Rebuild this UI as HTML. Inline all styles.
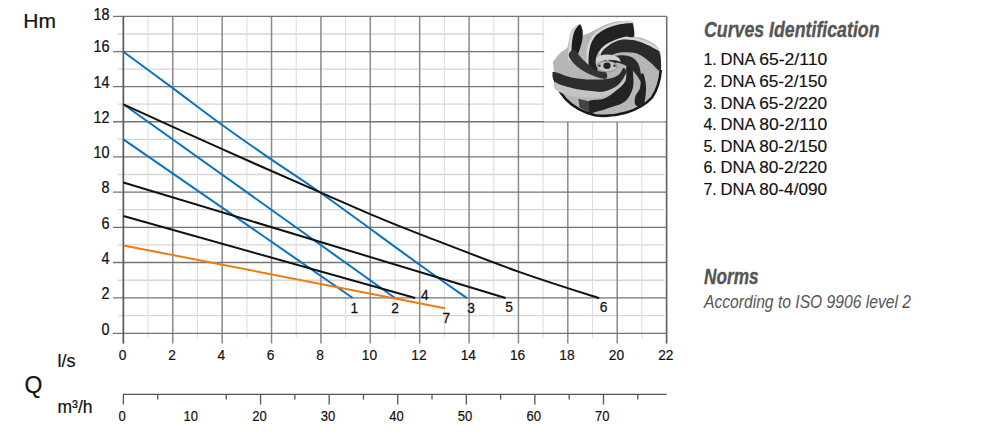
<!DOCTYPE html><html><head><meta charset="utf-8"><style>html,body{margin:0;padding:0;background:#fff;width:1000px;height:436px;overflow:hidden}svg{display:block}text{font-family:"Liberation Sans",sans-serif}</style></head><body>
<svg width="1000" height="436" viewBox="0 0 1000 436">
<line x1="118" y1="315.67" x2="664.6" y2="315.67" stroke="#d6d6d6" stroke-width="1.3"/>
<line x1="118" y1="280.23" x2="664.6" y2="280.23" stroke="#d6d6d6" stroke-width="1.3"/>
<line x1="118" y1="244.90" x2="664.6" y2="244.90" stroke="#d6d6d6" stroke-width="1.3"/>
<line x1="118" y1="209.70" x2="664.6" y2="209.70" stroke="#d6d6d6" stroke-width="1.3"/>
<line x1="118" y1="174.50" x2="664.6" y2="174.50" stroke="#d6d6d6" stroke-width="1.3"/>
<line x1="118" y1="139.34" x2="664.6" y2="139.34" stroke="#d6d6d6" stroke-width="1.3"/>
<line x1="118" y1="104.20" x2="664.6" y2="104.20" stroke="#d6d6d6" stroke-width="1.3"/>
<line x1="118" y1="69.10" x2="664.6" y2="69.10" stroke="#d6d6d6" stroke-width="1.3"/>
<line x1="118" y1="34.01" x2="664.6" y2="34.01" stroke="#d6d6d6" stroke-width="1.3"/>
<line x1="148.09" y1="16.47" x2="148.09" y2="338.40" stroke="#dedede" stroke-width="1.1"/>
<line x1="197.47" y1="16.47" x2="197.47" y2="338.40" stroke="#dedede" stroke-width="1.1"/>
<line x1="246.85" y1="16.47" x2="246.85" y2="338.40" stroke="#dedede" stroke-width="1.1"/>
<line x1="296.23" y1="16.47" x2="296.23" y2="338.40" stroke="#dedede" stroke-width="1.1"/>
<line x1="345.61" y1="16.47" x2="345.61" y2="338.40" stroke="#dedede" stroke-width="1.1"/>
<line x1="394.99" y1="16.47" x2="394.99" y2="338.40" stroke="#dedede" stroke-width="1.1"/>
<line x1="444.37" y1="16.47" x2="444.37" y2="338.40" stroke="#dedede" stroke-width="1.1"/>
<line x1="493.75" y1="16.47" x2="493.75" y2="338.40" stroke="#dedede" stroke-width="1.1"/>
<line x1="543.13" y1="16.47" x2="543.13" y2="338.40" stroke="#dedede" stroke-width="1.1"/>
<line x1="592.51" y1="16.47" x2="592.51" y2="338.40" stroke="#dedede" stroke-width="1.1"/>
<line x1="641.89" y1="16.47" x2="641.89" y2="338.40" stroke="#dedede" stroke-width="1.1"/>
<line x1="123.40" y1="16.47" x2="123.40" y2="343.40" stroke="#8a8a8a" stroke-width="1.5"/>
<line x1="172.78" y1="16.47" x2="172.78" y2="343.40" stroke="#8a8a8a" stroke-width="1.5"/>
<line x1="222.16" y1="16.47" x2="222.16" y2="343.40" stroke="#8a8a8a" stroke-width="1.5"/>
<line x1="271.54" y1="16.47" x2="271.54" y2="343.40" stroke="#8a8a8a" stroke-width="1.5"/>
<line x1="320.92" y1="16.47" x2="320.92" y2="343.40" stroke="#8a8a8a" stroke-width="1.5"/>
<line x1="370.30" y1="16.47" x2="370.30" y2="343.40" stroke="#8a8a8a" stroke-width="1.5"/>
<line x1="419.68" y1="16.47" x2="419.68" y2="343.40" stroke="#8a8a8a" stroke-width="1.5"/>
<line x1="469.06" y1="16.47" x2="469.06" y2="343.40" stroke="#8a8a8a" stroke-width="1.5"/>
<line x1="518.44" y1="16.47" x2="518.44" y2="343.40" stroke="#8a8a8a" stroke-width="1.5"/>
<line x1="567.82" y1="16.47" x2="567.82" y2="343.40" stroke="#8a8a8a" stroke-width="1.5"/>
<line x1="617.20" y1="16.47" x2="617.20" y2="343.40" stroke="#8a8a8a" stroke-width="1.5"/>
<line x1="666.58" y1="16.47" x2="666.58" y2="343.40" stroke="#8a8a8a" stroke-width="1.5"/>
<line x1="113" y1="333.40" x2="666.58" y2="333.40" stroke="#747474" stroke-width="1.3"/>
<line x1="113" y1="297.95" x2="666.58" y2="297.95" stroke="#747474" stroke-width="1.3"/>
<line x1="113" y1="262.50" x2="666.58" y2="262.50" stroke="#747474" stroke-width="1.3"/>
<line x1="113" y1="227.30" x2="666.58" y2="227.30" stroke="#747474" stroke-width="1.3"/>
<line x1="113" y1="192.10" x2="666.58" y2="192.10" stroke="#747474" stroke-width="1.3"/>
<line x1="113" y1="156.90" x2="666.58" y2="156.90" stroke="#747474" stroke-width="1.3"/>
<line x1="113" y1="121.77" x2="666.58" y2="121.77" stroke="#747474" stroke-width="1.3"/>
<line x1="113" y1="86.64" x2="666.58" y2="86.64" stroke="#747474" stroke-width="1.3"/>
<line x1="113" y1="51.55" x2="666.58" y2="51.55" stroke="#747474" stroke-width="1.3"/>
<line x1="113" y1="16.47" x2="666.58" y2="16.47" stroke="#747474" stroke-width="1.3"/>
<line x1="123.40" y1="16.47" x2="123.40" y2="343.40" stroke="#555" stroke-width="1.4"/>
<line x1="666.58" y1="16.47" x2="666.58" y2="343.40" stroke="#666" stroke-width="1.4"/>
<rect x="544.2" y="17.3" width="121.6" height="104.2" fill="#fff"/>

<g>
<path d="M552.9,62.0 C554.0,60.6 557.3,55.7 559.6,53.4 C561.9,51.1 565.4,50.0 566.9,48.0 C568.4,46.0 568.0,44.0 568.7,41.3 C569.4,38.5 570.0,34.0 571.1,31.5 C572.2,29.0 574.0,27.7 575.5,26.5 C577.0,25.3 579.1,23.6 580.3,24.4 C581.5,25.1 582.3,29.2 582.8,31.0 C583.2,32.8 582.5,34.5 583.0,35.0 C583.5,35.5 584.8,34.4 586.0,34.0 C587.2,33.6 588.8,33.0 590.0,32.5 C591.2,32.0 591.7,31.7 593.0,31.0 C594.3,30.3 595.8,29.6 598.0,28.5 C600.2,27.4 602.7,25.7 606.0,24.5 C609.3,23.3 614.0,21.9 618.0,21.3 C622.0,20.7 627.4,20.6 630.0,21.0 C632.6,21.4 632.8,21.0 633.5,23.5 C634.2,26.0 633.4,33.7 634.5,36.0 C635.6,38.3 637.8,36.8 640.0,37.5 C642.2,38.2 645.3,39.2 648.0,40.5 C650.7,41.8 653.9,43.5 656.0,45.5 C658.1,47.5 659.7,48.8 660.5,52.5 C661.3,56.2 660.9,65.4 661.0,68.0  L660.8,70 C660,80 657,90 652,97.5 C640,111 615,118 595,115.2 C570,109 555,92 553.8,72 Z" fill="#b6b6b6"/>
<path d="M553.8,72 C555,92 570,109 595,115.2 C615,118 640,111 652,97.5 C657,90 660,80 660.8,70" fill="none" stroke="#161616" stroke-width="2.6"/>
<path d="M568.5,60.0 C567.9,58.2 568.5,49.5 569.0,45.0 C569.5,40.5 570.2,36.2 571.5,33.0 C572.8,29.8 575.0,27.5 576.5,26.0 C578.0,24.5 580.5,23.4 580.3,24.2 C580.0,25.0 576.3,28.0 575.0,31.0 C573.7,34.0 572.9,37.8 572.5,42.0 C572.1,46.2 573.2,53.0 572.5,56.0 C571.8,59.0 569.1,61.8 568.5,60.0 Z" fill="#dadada"/>
<path d="M586.5,62.0 C586.3,59.5 586.4,51.5 587.5,47.0 C588.6,42.5 590.8,38.0 593.0,35.0 C595.2,32.0 598.2,30.8 601.0,29.0 C603.8,27.2 606.5,25.8 610.0,24.5 C613.5,23.2 618.5,22.1 622.0,21.5 C625.5,20.9 629.2,20.7 631.0,21.0 C632.8,21.3 633.1,23.1 633.0,23.5 C632.9,23.9 632.7,23.1 630.5,23.2 C628.3,23.3 623.4,23.7 620.0,24.3 C616.6,24.9 613.2,25.8 610.0,27.0 C606.8,28.2 603.7,29.7 601.0,31.5 C598.3,33.3 595.9,35.2 594.0,38.0 C592.1,40.8 590.7,44.0 589.8,48.0 C588.9,52.0 589.0,59.7 588.5,62.0 C588.0,64.3 586.7,64.5 586.5,62.0 Z" fill="#d8d8d8"/>
<path d="M599.0,52.0 C600.2,50.2 604.5,44.9 608.0,42.5 C611.5,40.1 615.8,38.3 620.0,37.5 C624.2,36.7 628.7,36.9 633.0,37.5 C637.3,38.1 642.2,39.5 646.0,41.0 C649.8,42.5 653.6,44.7 656.0,46.5 C658.4,48.3 660.8,51.6 660.5,52.0 C660.2,52.4 657.0,50.0 654.4,48.6 C651.8,47.2 648.4,45.1 644.7,43.7 C641.1,42.3 636.5,40.7 632.5,40.1 C628.5,39.5 624.2,39.3 620.4,40.1 C616.5,40.9 612.6,42.8 609.4,45.0 C606.2,47.2 602.7,52.3 601.0,53.5 C599.3,54.7 597.8,53.8 599.0,52.0 Z" fill="#d8d8d8"/>
<path d="M556.0,90.0 C558.8,92.3 566.0,94.8 572.0,96.0 C578.0,97.2 586.3,97.5 592.0,97.5 C597.7,97.5 601.7,97.1 606.0,96.0 C610.3,94.9 614.3,93.8 618.0,91.0 C621.7,88.2 626.7,82.0 628.0,79.0 C629.3,76.0 627.7,72.0 626.0,73.0 C624.3,74.0 621.7,81.9 618.0,85.0 C614.3,88.1 608.5,90.5 604.0,91.5 C599.5,92.5 596.5,91.5 591.3,91.0 C586.1,90.5 578.8,89.8 572.8,88.3 C566.8,86.8 558.2,81.8 555.4,82.1 C552.6,82.4 553.2,87.7 556.0,90.0 Z" fill="#c4c4c4"/>
<path d="M580.3,24.6 C581.2,25.2 582.2,28.4 582.5,31.0 C582.8,33.6 582.8,36.8 582.3,40.0 C581.8,43.2 580.6,46.9 579.5,50.0 C578.4,53.1 576.8,57.7 575.5,58.5 C574.2,59.3 572.4,57.4 571.8,55.0 C571.2,52.6 571.5,47.7 571.8,44.0 C572.1,40.3 572.9,35.8 573.8,33.0 C574.7,30.2 575.9,28.7 577.0,27.3 C578.1,25.9 579.4,24.0 580.3,24.6 Z" fill="#1c1c1c"/>
<path d="M596.0,76.0 C594.9,76.2 592.2,73.3 591.0,71.0 C589.8,68.7 588.7,65.8 588.5,62.0 C588.3,58.2 588.9,52.0 589.8,48.0 C590.7,44.0 592.1,40.8 594.0,38.0 C595.9,35.2 598.3,33.3 601.0,31.5 C603.7,29.7 606.8,28.2 610.0,27.0 C613.2,25.8 616.6,24.9 620.0,24.3 C623.4,23.7 628.3,23.2 630.5,23.2 C632.7,23.2 632.4,22.3 633.0,24.5 C633.6,26.7 635.2,34.5 634.0,36.5 C632.8,38.5 629.0,36.0 626.0,36.5 C623.0,37.0 619.5,38.1 616.0,39.5 C612.5,40.9 608.0,42.8 605.0,45.0 C602.0,47.2 599.6,50.2 598.0,53.0 C596.4,55.8 595.6,59.2 595.5,62.0 C595.4,64.8 597.4,67.7 597.5,70.0 C597.6,72.3 597.1,75.8 596.0,76.0 Z" fill="#222"/>
<path d="M601.0,53.5 C601.8,50.9 606.2,47.2 609.4,45.0 C612.6,42.8 616.5,40.9 620.4,40.1 C624.2,39.3 628.5,39.5 632.5,40.1 C636.5,40.7 641.1,42.3 644.7,43.7 C648.4,45.1 651.9,47.0 654.4,48.6 C656.9,50.2 658.9,49.8 659.9,53.5 C660.9,57.2 662.0,69.4 660.5,71.0 C659.0,72.6 654.5,65.7 651.0,63.0 C647.5,60.3 643.7,56.5 639.8,54.7 C635.9,52.9 631.8,52.5 627.7,52.3 C623.7,52.1 618.8,52.5 615.5,53.5 C612.2,54.5 610.0,57.1 608.2,58.3 C606.4,59.5 605.8,61.6 604.6,60.8 C603.4,60.0 600.2,56.1 601.0,53.5 Z" fill="#2a2a2a"/>
<path d="M568.8,56.0 C569.5,58.9 574.2,64.2 578.3,67.5 C582.4,70.8 588.8,73.9 593.4,75.8 C598.0,77.7 603.7,79.3 605.8,78.8 C607.9,78.2 607.6,73.9 606.0,72.5 C604.4,71.1 599.8,72.3 596.1,70.3 C592.4,68.3 587.5,64.0 583.8,60.6 C580.1,57.2 576.5,50.8 574.0,50.0 C571.5,49.2 568.1,53.1 568.8,56.0 Z" fill="#333"/>
<path d="M554.2,72.2 C557.1,71.5 566.6,76.6 572.8,77.8 C579.0,79.0 585.1,79.5 591.3,79.6 C597.5,79.7 605.3,79.2 609.9,78.4 C614.5,77.6 616.7,76.2 619.0,74.5 C621.3,72.8 622.3,68.2 623.5,68.0 C624.7,67.8 626.9,70.2 626.0,73.0 C625.1,75.8 621.7,81.9 618.0,85.0 C614.3,88.1 608.5,90.5 604.0,91.5 C599.5,92.5 596.5,91.5 591.3,91.0 C586.1,90.5 578.8,89.8 572.8,88.3 C566.8,86.8 558.5,84.8 555.4,82.1 C552.3,79.4 551.3,72.9 554.2,72.2 Z" fill="#2c2c2c"/>
<path d="M588.8,101.3 C591.2,99.0 599.2,100.5 603.7,98.8 C608.2,97.0 612.4,93.8 616.0,90.8 C619.6,87.8 623.8,84.9 625.5,80.8 C627.2,76.7 625.5,68.5 626.5,66.0 C627.5,63.5 630.4,64.8 631.5,66.0 C632.6,67.2 632.8,69.7 633.0,73.4 C633.2,77.1 634.1,83.6 632.8,88.3 C631.5,93.0 628.8,98.3 625.0,101.5 C621.2,104.7 614.2,106.0 610.0,107.5 C605.8,109.0 603.4,110.0 600.0,110.8 C596.6,111.6 591.4,114.1 589.5,112.5 C587.6,110.9 586.4,103.6 588.8,101.3 Z" fill="#232323"/>
<path d="M578.3,98.8 L588.8,101.3 L589.5,112.5 L579.6,107.5 Z" fill="#444"/>
<path d="M641.0,74.0 C641.4,73.7 642.8,72.7 643.5,74.0 C644.2,75.3 645.1,79.3 645.5,82.0 C645.9,84.7 646.2,86.7 646.0,90.0 C645.8,93.3 645.4,99.1 644.5,102.0 C643.6,104.9 642.1,107.2 640.5,107.5 C638.9,107.8 635.8,105.9 635.0,104.0 C634.2,102.1 634.7,98.7 635.5,96.0 C636.3,93.3 639.1,91.3 640.0,88.0 C640.9,84.7 640.8,78.3 641.0,76.0 C641.2,73.7 640.6,74.3 641.0,74.0 Z" fill="#222"/>
<path d="M609.0,58.0 C610.2,56.8 614.8,55.8 618.0,55.5 C621.2,55.2 625.2,55.3 628.0,56.0 C630.8,56.7 633.1,57.7 635.0,59.5 C636.9,61.3 638.4,63.2 639.5,67.0 C640.6,70.8 642.0,80.7 641.5,82.0 C641.0,83.3 638.6,77.4 636.5,75.0 C634.4,72.6 631.9,69.5 629.0,67.5 C626.1,65.5 622.0,63.8 619.0,63.0 C616.0,62.2 612.7,63.8 611.0,63.0 C609.3,62.2 607.8,59.2 609.0,58.0 Z" fill="#2a2a2a"/>
<path d="M596,58 C600,54 612,53 619,58 L621,62 C614,59 602,59 597,63 Z" fill="#d0d0d0"/>
<ellipse cx="607" cy="66.5" rx="10" ry="5.5" fill="#c4c4c4" stroke="#666" stroke-width="0.6"/>
<ellipse cx="607" cy="65.8" rx="3.6" ry="3.2" fill="#222"/>
<circle cx="599.5" cy="65.8" r="1.2" fill="#333"/>
<circle cx="614.5" cy="65.8" r="1.2" fill="#333"/>
</g>

<line x1="123.40" y1="139.34" x2="352.77" y2="297.95" stroke="#0b71c3" stroke-width="2"/>
<line x1="123.40" y1="104.20" x2="394.99" y2="297.95" stroke="#0b71c3" stroke-width="2"/>
<path d="M123.4,51.8 C131.6,57.8 156.3,75.9 172.8,88.1 C189.2,100.3 205.7,113.1 222.2,125.0 C238.6,136.9 255.1,148.3 271.5,159.6 C288.0,170.9 296.2,175.5 320.9,193.0 C345.6,210.5 395.3,247.2 419.7,264.8 C444.0,282.4 459.2,292.7 467.1,298.3 " fill="none" stroke="#0b71c3" stroke-width="2"/>
<line x1="123.40" y1="216.04" x2="415.24" y2="297.95" stroke="#111" stroke-width="2"/>
<line x1="123.40" y1="182.42" x2="505.60" y2="297.95" stroke="#111" stroke-width="2"/>
<path d="M123.4,104.4 C139.9,111.9 189.2,134.5 222.2,149.2 C255.1,163.9 294.6,181.1 320.9,192.6 C347.2,204.1 363.5,211.3 379.9,218.2 C396.4,225.1 396.6,225.2 419.7,234.1 C442.8,243.0 488.5,260.9 518.4,271.6 C548.4,282.3 585.7,293.8 599.2,298.2 " fill="none" stroke="#111" stroke-width="2"/>
<line x1="123.40" y1="245.43" x2="444.86" y2="308.23" stroke="#f07a12" stroke-width="2"/>
<text transform="translate(109.5 334.6) scale(0.9 1)" font-size="16" text-anchor="end" fill="#111" stroke="#111" stroke-width="0.25">0</text>
<text transform="translate(109.5 299.1) scale(0.9 1)" font-size="16" text-anchor="end" fill="#111" stroke="#111" stroke-width="0.25">2</text>
<text transform="translate(109.5 263.7) scale(0.9 1)" font-size="16" text-anchor="end" fill="#111" stroke="#111" stroke-width="0.25">4</text>
<text transform="translate(109.5 228.5) scale(0.9 1)" font-size="16" text-anchor="end" fill="#111" stroke="#111" stroke-width="0.25">6</text>
<text transform="translate(109.5 193.3) scale(0.9 1)" font-size="16" text-anchor="end" fill="#111" stroke="#111" stroke-width="0.25">8</text>
<text transform="translate(109.5 158.1) scale(0.9 1)" font-size="16" text-anchor="end" fill="#111" stroke="#111" stroke-width="0.25">10</text>
<text transform="translate(109.5 123.0) scale(0.9 1)" font-size="16" text-anchor="end" fill="#111" stroke="#111" stroke-width="0.25">12</text>
<text transform="translate(109.5 87.8) scale(0.9 1)" font-size="16" text-anchor="end" fill="#111" stroke="#111" stroke-width="0.25">14</text>
<text transform="translate(109.5 51.6) scale(0.9 1)" font-size="16" text-anchor="end" fill="#111" stroke="#111" stroke-width="0.25">16</text>
<text transform="translate(109.5 19.8) scale(0.9 1)" font-size="16" text-anchor="end" fill="#111" stroke="#111" stroke-width="0.25">18</text>
<text transform="translate(122.6 360.3) scale(0.9 1)" font-size="15.3" text-anchor="middle" fill="#111" stroke="#111" stroke-width="0.2">0</text>
<text transform="translate(172.0 360.3) scale(0.9 1)" font-size="15.3" text-anchor="middle" fill="#111" stroke="#111" stroke-width="0.2">2</text>
<text transform="translate(221.4 360.3) scale(0.9 1)" font-size="15.3" text-anchor="middle" fill="#111" stroke="#111" stroke-width="0.2">4</text>
<text transform="translate(270.7 360.3) scale(0.9 1)" font-size="15.3" text-anchor="middle" fill="#111" stroke="#111" stroke-width="0.2">6</text>
<text transform="translate(320.1 360.3) scale(0.9 1)" font-size="15.3" text-anchor="middle" fill="#111" stroke="#111" stroke-width="0.2">8</text>
<text transform="translate(369.5 360.3) scale(0.9 1)" font-size="15.3" text-anchor="middle" fill="#111" stroke="#111" stroke-width="0.2">10</text>
<text transform="translate(418.9 360.3) scale(0.9 1)" font-size="15.3" text-anchor="middle" fill="#111" stroke="#111" stroke-width="0.2">12</text>
<text transform="translate(468.3 360.3) scale(0.9 1)" font-size="15.3" text-anchor="middle" fill="#111" stroke="#111" stroke-width="0.2">14</text>
<text transform="translate(517.6 360.3) scale(0.9 1)" font-size="15.3" text-anchor="middle" fill="#111" stroke="#111" stroke-width="0.2">16</text>
<text transform="translate(567.0 360.3) scale(0.9 1)" font-size="15.3" text-anchor="middle" fill="#111" stroke="#111" stroke-width="0.2">18</text>
<text transform="translate(616.4 360.3) scale(0.9 1)" font-size="15.3" text-anchor="middle" fill="#111" stroke="#111" stroke-width="0.2">20</text>
<text transform="translate(665.8 360.3) scale(0.9 1)" font-size="15.3" text-anchor="middle" fill="#111" stroke="#111" stroke-width="0.2">22</text>
<text transform="translate(354.4 313) scale(0.92 1)" font-size="15" text-anchor="middle" fill="#111" stroke="#111" stroke-width="0.25">1</text>
<text transform="translate(395.2 313) scale(0.92 1)" font-size="15" text-anchor="middle" fill="#111" stroke="#111" stroke-width="0.25">2</text>
<text transform="translate(424.8 300.2) scale(0.92 1)" font-size="15" text-anchor="middle" fill="#111" stroke="#111" stroke-width="0.25">4</text>
<text transform="translate(446.4 323) scale(0.92 1)" font-size="15" text-anchor="middle" fill="#111" stroke="#111" stroke-width="0.25">7</text>
<text transform="translate(471.2 313) scale(0.92 1)" font-size="15" text-anchor="middle" fill="#111" stroke="#111" stroke-width="0.25">3</text>
<text transform="translate(509.1 311.6) scale(0.92 1)" font-size="15" text-anchor="middle" fill="#111" stroke="#111" stroke-width="0.25">5</text>
<text transform="translate(603.5 311.6) scale(0.92 1)" font-size="15" text-anchor="middle" fill="#111" stroke="#111" stroke-width="0.25">6</text>
<polyline points="123.40,404.6 123.40,394.4 666.58,394.4" fill="none" stroke="#555" stroke-width="1.3"/>
<line x1="157.69" y1="394.4" x2="157.69" y2="399.6" stroke="#555" stroke-width="1.3"/>
<line x1="226.28" y1="394.4" x2="226.28" y2="399.6" stroke="#555" stroke-width="1.3"/>
<line x1="260.57" y1="394.4" x2="260.57" y2="404.6" stroke="#555" stroke-width="1.3"/>
<line x1="294.86" y1="394.4" x2="294.86" y2="399.6" stroke="#555" stroke-width="1.3"/>
<line x1="329.15" y1="394.4" x2="329.15" y2="404.6" stroke="#555" stroke-width="1.3"/>
<line x1="363.44" y1="394.4" x2="363.44" y2="399.6" stroke="#555" stroke-width="1.3"/>
<line x1="397.73" y1="394.4" x2="397.73" y2="404.6" stroke="#555" stroke-width="1.3"/>
<line x1="432.02" y1="394.4" x2="432.02" y2="399.6" stroke="#555" stroke-width="1.3"/>
<line x1="466.32" y1="394.4" x2="466.32" y2="404.6" stroke="#555" stroke-width="1.3"/>
<line x1="500.61" y1="394.4" x2="500.61" y2="399.6" stroke="#555" stroke-width="1.3"/>
<line x1="534.90" y1="394.4" x2="534.90" y2="404.6" stroke="#555" stroke-width="1.3"/>
<line x1="569.19" y1="394.4" x2="569.19" y2="399.6" stroke="#555" stroke-width="1.3"/>
<line x1="603.48" y1="394.4" x2="603.48" y2="404.6" stroke="#555" stroke-width="1.3"/>
<line x1="637.77" y1="394.4" x2="637.77" y2="399.6" stroke="#555" stroke-width="1.3"/>
<text transform="translate(122.2 421) scale(0.9 1)" font-size="14.5" text-anchor="middle" fill="#111" stroke="#111" stroke-width="0.2">0</text>
<text transform="translate(190.8 421) scale(0.9 1)" font-size="14.5" text-anchor="middle" fill="#111" stroke="#111" stroke-width="0.2">10</text>
<text transform="translate(259.4 421) scale(0.9 1)" font-size="14.5" text-anchor="middle" fill="#111" stroke="#111" stroke-width="0.2">20</text>
<text transform="translate(328.0 421) scale(0.9 1)" font-size="14.5" text-anchor="middle" fill="#111" stroke="#111" stroke-width="0.2">30</text>
<text transform="translate(396.5 421) scale(0.9 1)" font-size="14.5" text-anchor="middle" fill="#111" stroke="#111" stroke-width="0.2">40</text>
<text transform="translate(465.1 421) scale(0.9 1)" font-size="14.5" text-anchor="middle" fill="#111" stroke="#111" stroke-width="0.2">50</text>
<text transform="translate(533.7 421) scale(0.9 1)" font-size="14.5" text-anchor="middle" fill="#111" stroke="#111" stroke-width="0.2">60</text>
<text transform="translate(602.3 421) scale(0.9 1)" font-size="14.5" text-anchor="middle" fill="#111" stroke="#111" stroke-width="0.2">70</text>
<text x="23.3" y="27.7" font-size="21" fill="#111" stroke="#111" stroke-width="0.2">Hm</text>
<text x="57.5" y="367.4" font-size="18" fill="#111" stroke="#111" stroke-width="0.2">l/s</text>
<text x="24.6" y="393" font-size="23" fill="#111" stroke="#111" stroke-width="0.2">Q</text>
<text x="57.5" y="412.6" font-size="17.5" fill="#111" stroke="#111" stroke-width="0.2">m³/h</text>
<text x="704" y="36.6" font-size="22" font-weight="bold" font-style="italic" fill="#555" stroke="#555" stroke-width="0.35" textLength="175.5" lengthAdjust="spacingAndGlyphs">Curves Identification</text>
<text x="703.4" y="65.2" font-size="16" fill="#111" stroke="#111" stroke-width="0.15" textLength="13.4" lengthAdjust="spacingAndGlyphs">1.</text>
<text x="720.5" y="65.2" font-size="16" fill="#111" stroke="#111" stroke-width="0.15" textLength="35" lengthAdjust="spacingAndGlyphs">DNA</text>
<text x="759.2" y="65.2" font-size="16" fill="#111" stroke="#111" stroke-width="0.15" textLength="68" lengthAdjust="spacingAndGlyphs">65-2/110</text>
<text x="703.4" y="86.8" font-size="16" fill="#111" stroke="#111" stroke-width="0.15" textLength="13.4" lengthAdjust="spacingAndGlyphs">2.</text>
<text x="720.5" y="86.8" font-size="16" fill="#111" stroke="#111" stroke-width="0.15" textLength="35" lengthAdjust="spacingAndGlyphs">DNA</text>
<text x="759.2" y="86.8" font-size="16" fill="#111" stroke="#111" stroke-width="0.15" textLength="68" lengthAdjust="spacingAndGlyphs">65-2/150</text>
<text x="703.4" y="108.5" font-size="16" fill="#111" stroke="#111" stroke-width="0.15" textLength="13.4" lengthAdjust="spacingAndGlyphs">3.</text>
<text x="720.5" y="108.5" font-size="16" fill="#111" stroke="#111" stroke-width="0.15" textLength="35" lengthAdjust="spacingAndGlyphs">DNA</text>
<text x="759.2" y="108.5" font-size="16" fill="#111" stroke="#111" stroke-width="0.15" textLength="68" lengthAdjust="spacingAndGlyphs">65-2/220</text>
<text x="703.4" y="130.1" font-size="16" fill="#111" stroke="#111" stroke-width="0.15" textLength="13.4" lengthAdjust="spacingAndGlyphs">4.</text>
<text x="720.5" y="130.1" font-size="16" fill="#111" stroke="#111" stroke-width="0.15" textLength="35" lengthAdjust="spacingAndGlyphs">DNA</text>
<text x="759.2" y="130.1" font-size="16" fill="#111" stroke="#111" stroke-width="0.15" textLength="68" lengthAdjust="spacingAndGlyphs">80-2/110</text>
<text x="703.4" y="151.8" font-size="16" fill="#111" stroke="#111" stroke-width="0.15" textLength="13.4" lengthAdjust="spacingAndGlyphs">5.</text>
<text x="720.5" y="151.8" font-size="16" fill="#111" stroke="#111" stroke-width="0.15" textLength="35" lengthAdjust="spacingAndGlyphs">DNA</text>
<text x="759.2" y="151.8" font-size="16" fill="#111" stroke="#111" stroke-width="0.15" textLength="68" lengthAdjust="spacingAndGlyphs">80-2/150</text>
<text x="703.4" y="173.4" font-size="16" fill="#111" stroke="#111" stroke-width="0.15" textLength="13.4" lengthAdjust="spacingAndGlyphs">6.</text>
<text x="720.5" y="173.4" font-size="16" fill="#111" stroke="#111" stroke-width="0.15" textLength="35" lengthAdjust="spacingAndGlyphs">DNA</text>
<text x="759.2" y="173.4" font-size="16" fill="#111" stroke="#111" stroke-width="0.15" textLength="68" lengthAdjust="spacingAndGlyphs">80-2/220</text>
<text x="703.4" y="195.1" font-size="16" fill="#111" stroke="#111" stroke-width="0.15" textLength="13.4" lengthAdjust="spacingAndGlyphs">7.</text>
<text x="720.5" y="195.1" font-size="16" fill="#111" stroke="#111" stroke-width="0.15" textLength="35" lengthAdjust="spacingAndGlyphs">DNA</text>
<text x="759.2" y="195.1" font-size="16" fill="#111" stroke="#111" stroke-width="0.15" textLength="68" lengthAdjust="spacingAndGlyphs">80-4/090</text>
<text x="704" y="284.1" font-size="22" font-weight="bold" font-style="italic" fill="#555" stroke="#555" stroke-width="0.35" textLength="54.5" lengthAdjust="spacingAndGlyphs">Norms</text>
<text x="704" y="307.5" font-size="17.5" font-style="italic" fill="#555" textLength="207" lengthAdjust="spacingAndGlyphs">According to ISO 9906 level 2</text>
</svg></body></html>
